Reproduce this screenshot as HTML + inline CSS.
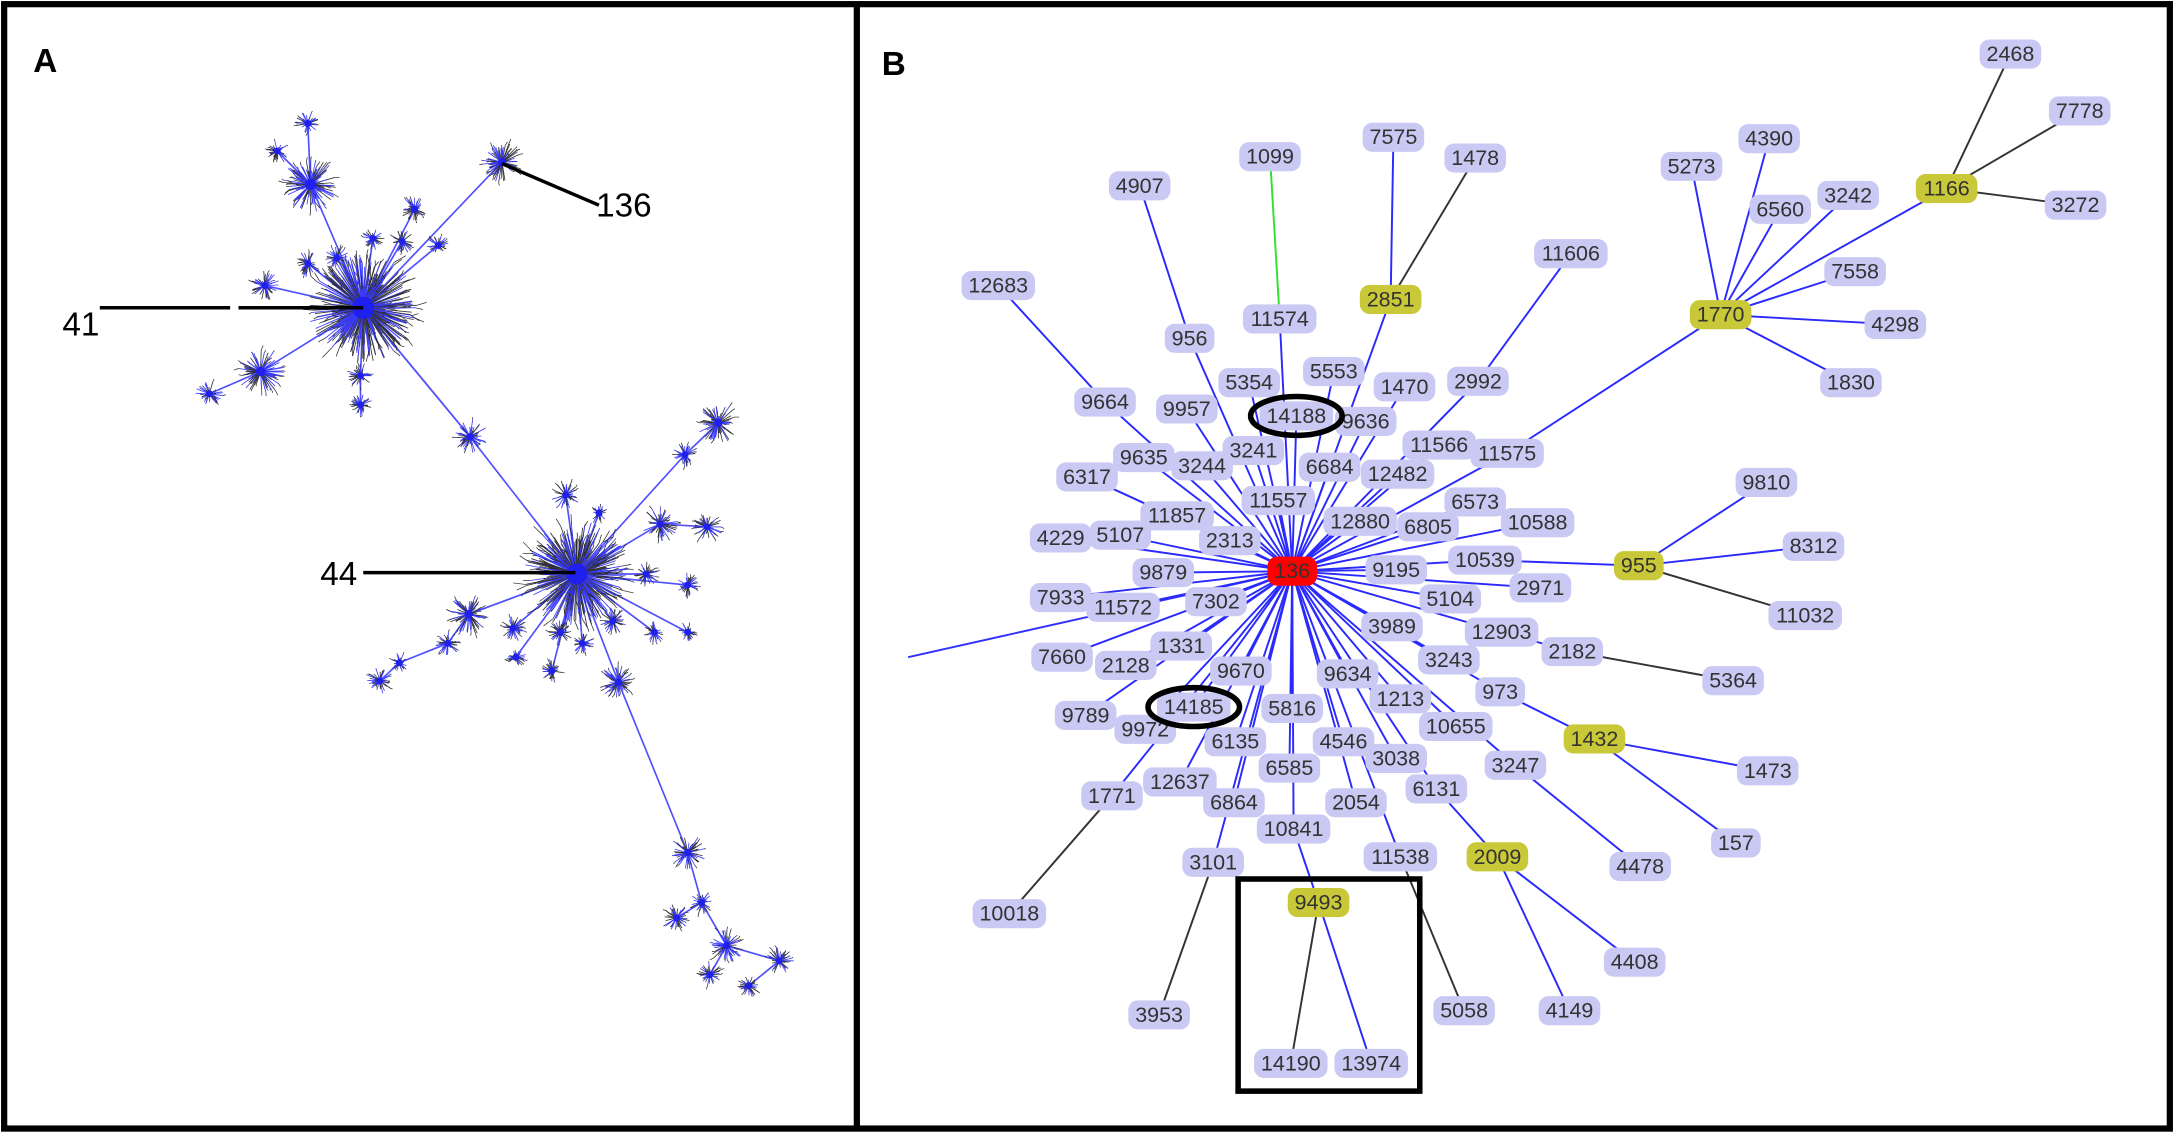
<!DOCTYPE html>
<html><head><meta charset="utf-8"><style>
html,body{margin:0;padding:0;background:#fff;}
svg{display:block;}
text{font-family:"Liberation Sans",sans-serif;}
.n{font-size:15.5px;fill:#333;text-anchor:middle;dominant-baseline:central;}
</style></head><body>
<svg id="s" width="2174" height="1133" viewBox="0 0 1568 817.2" preserveAspectRatio="none">
<rect x="0" y="0" width="1568" height="817.2" fill="#fff"/>
<g id="ga"></g>
<g id="ge"></g>
<g id="gr"></g>
<g id="gt">
<text class="n" x="822" y="134">4907</text><text class="n" x="916" y="113">1099</text><text class="n" x="1005" y="99">7575</text><text class="n" x="1064" y="114">1478</text>
<text class="n" x="1450" y="39">2468</text><text class="n" x="1500" y="80">7778</text><text class="n" x="1404" y="136" data-y="1">1166</text><text class="n" x="1497" y="148">3272</text>
<text class="n" x="1276" y="100">4390</text><text class="n" x="1220" y="120">5273</text><text class="n" x="1284" y="151">6560</text><text class="n" x="1333" y="141">3242</text>
<text class="n" x="1338" y="196">7558</text><text class="n" x="1241" y="227">1770</text><text class="n" x="1367" y="234">4298</text><text class="n" x="1335" y="276">1830</text>
<text class="n" x="1133" y="183">11606</text><text class="n" x="720" y="206">12683</text><text class="n" x="923" y="230">11574</text><text class="n" x="1003" y="216">2851</text>
<text class="n" x="858" y="244">956</text><text class="n" x="962" y="268">5553</text><text class="n" x="901" y="276">5354</text><text class="n" x="1013" y="279">1470</text>
<text class="n" x="1066" y="275">2992</text><text class="n" x="797" y="290">9664</text><text class="n" x="856" y="295">9957</text><text class="n" x="935" y="300">14188</text>
<text class="n" x="985" y="304">9636</text><text class="n" x="1038" y="321">11566</text><text class="n" x="1087" y="327">11575</text><text class="n" x="904" y="325">3241</text>
<text class="n" x="825" y="330">9635</text><text class="n" x="867" y="336">3244</text><text class="n" x="959" y="337">6684</text><text class="n" x="1008" y="342">12482</text>
<text class="n" x="784" y="344">6317</text><text class="n" x="922" y="361">11557</text><text class="n" x="1064" y="362">6573</text><text class="n" x="849" y="372">11857</text>
<text class="n" x="981" y="376">12880</text><text class="n" x="1030" y="380">6805</text><text class="n" x="1109" y="377">10588</text><text class="n" x="765" y="388">4229</text>
<text class="n" x="808" y="386">5107</text><text class="n" x="887" y="390">2313</text><text class="n" x="1274" y="348">9810</text><text class="n" x="1308" y="394">8312</text>
<text class="n" x="1182" y="408">955</text><text class="n" x="1302" y="444">11032</text><text class="n" x="839" y="413">9879</text><text class="n" x="1007" y="411">9195</text>
<text class="n" x="1071" y="404">10539</text><text class="n" x="1111" y="424">2971</text><text class="n" x="765" y="431">7933</text><text class="n" x="810" y="438">11572</text>
<text class="n" x="877" y="434">7302</text><text class="n" x="1046" y="432">5104</text><text class="n" x="1004" y="452">3989</text><text class="n" x="1083" y="456">12903</text>
<text class="n" x="1134" y="470">2182</text><text class="n" x="1250" y="491">5364</text><text class="n" x="766" y="474">7660</text><text class="n" x="852" y="466">1331</text>
<text class="n" x="812" y="480">2128</text><text class="n" x="1045" y="476">3243</text><text class="n" x="895" y="484">9670</text><text class="n" x="972" y="486">9634</text>
<text class="n" x="1082" y="499">973</text><text class="n" x="783" y="516">9789</text><text class="n" x="861" y="510">14185</text><text class="n" x="826" y="526">9972</text>
<text class="n" x="932" y="511">5816</text><text class="n" x="1010" y="504">1213</text><text class="n" x="891" y="535">6135</text><text class="n" x="969" y="535">4546</text>
<text class="n" x="1050" y="524">10655</text><text class="n" x="1150" y="533">1432</text><text class="n" x="1275" y="556">1473</text><text class="n" x="1007" y="547">3038</text>
<text class="n" x="930" y="554">6585</text><text class="n" x="1093" y="552">3247</text><text class="n" x="851" y="564">12637</text><text class="n" x="802" y="574">1771</text>
<text class="n" x="890" y="579">6864</text><text class="n" x="978" y="579">2054</text><text class="n" x="1036" y="569">6131</text><text class="n" x="1252" y="608">157</text>
<text class="n" x="933" y="598">10841</text><text class="n" x="1010" y="618">11538</text><text class="n" x="1080" y="618">2009</text><text class="n" x="1183" y="625">4478</text>
<text class="n" x="875" y="622">3101</text><text class="n" x="728" y="659">10018</text><text class="n" x="951" y="651">9493</text><text class="n" x="1056" y="729">5058</text>
<text class="n" x="1179" y="694">4408</text><text class="n" x="1132" y="729">4149</text><text class="n" x="836" y="732">3953</text><text class="n" x="931" y="767">14190</text>
<text class="n" x="989" y="767">13974</text><text class="n" x="932" y="412">136</text>
</g>
<ellipse cx="935" cy="300" rx="33" ry="14" fill="none" stroke="#000" stroke-width="4"/>
<ellipse cx="861" cy="510" rx="33" ry="14" fill="none" stroke="#000" stroke-width="4"/>
<rect x="893" y="634" width="131" height="153" fill="none" stroke="#000" stroke-width="4"/>
<!-- panel A labels -->
<line x1="72" y1="222" x2="166" y2="222" stroke="#000" stroke-width="2.5"/>
<line x1="172" y1="222" x2="262" y2="222" stroke="#000" stroke-width="2.5"/>
<text x="45" y="242" font-size="24" fill="#000">41</text>
<line x1="262" y1="413" x2="415" y2="413" stroke="#000" stroke-width="2.5"/>
<text x="231" y="422" font-size="24" fill="#000">44</text>
<line x1="362" y1="118" x2="432" y2="148" stroke="#000" stroke-width="2.5"/>
<text x="430" y="156" font-size="24" fill="#000">136</text>
<text x="24" y="52" font-size="24" font-weight="bold" fill="#000">A</text>
<text x="636" y="54" font-size="24" font-weight="bold" fill="#000">B</text>
<rect x="3" y="3" width="1562" height="811" fill="none" stroke="#000" stroke-width="4.5"/>
<line x1="618" y1="3" x2="618" y2="814" stroke="#000" stroke-width="4.5"/>
</svg>
<script>
var NS="http://www.w3.org/2000/svg";
function el(p,t,a){var e=document.createElementNS(NS,t);for(var k in a)e.setAttribute(k,a[k]);p.appendChild(e);return e;}
var gt=document.getElementById('gt'),gr=document.getElementById('gr'),ge=document.getElementById('ge'),ga=document.getElementById('ga');
var pos={},ts=gt.querySelectorAll('text');
var yellow=["1166","1770","2851","955","1432","2009","9493"];
for(var i=0;i<ts.length;i++){var t=ts[i],n=t.textContent,x=+t.getAttribute('x'),y=+t.getAttribute('y');pos[n]=[x,y];
var w=n.length*8.6+10;var f=n=="136"?"#ff0000":(yellow.indexOf(n)>=0?"#c8c838":"#c9c9f3");
el(gr,'rect',{x:x-w/2,y:y-10.5,width:w,height:21,rx:7,fill:f});}
var par={"4907":"956","1099":"11574","7575":"2851","1478":"2851","11606":"2992","12683":"9664","5273":"1770","4390":"1770","6560":"1770","3242":"1770","7558":"1770","4298":"1770","1830":"1770","1166":"1770","1770":"11575","2468":"1166","7778":"1166","3272":"1166","9810":"955","8312":"955","11032":"955","955":"10539","5364":"2182","2182":"12903","1473":"1432","157":"1432","1432":"973","4408":"2009","4149":"2009","2009":"6131","4478":"3247","10018":"1771","3953":"3101","14190":"9493","13974":"9493","9493":"10841","5058":"11538"};
var blk=["1478","2468","7778","3272","11032","5364","10018","3953","14190","5058"];
var c=pos["136"];
el(ge,'line',{x1:c[0],y1:c[1],x2:655,y2:474,stroke:"#3030ff","stroke-width":1.4});
for(var n in pos){if(n=="136")continue;var p=par[n]||"136";var a=pos[n],b=pos[p];
var col=n=="1099"?"#30e030":(blk.indexOf(n)>=0?"#333":"#2a2aff");
el(ge,'line',{x1:a[0],y1:a[1],x2:b[0],y2:b[1],stroke:col,"stroke-width":1.4});}
// panel A
var seed=7;function r(){seed=(seed*16807)%2147483647;return seed/2147483647;}
var C=[[262,222,40],[416,414,38],[224,133,20],[222,89,9],[200,109,8],[362,117,15],[299,151,10],[290,174,9],[269,172,8],[243,186,9],[222,190,10],[191,206,11],[188,268,17],[151,284,10],[260,271,9],[260,292,8],[316,177,8],[339,315,13],[408,357,11],[432,370,7],[476,378,13],[510,380,11],[494,328,9],[518,305,15],[466,414,9],[496,422,9],[338,443,15],[323,464,9],[288,478,7],[274,491,10],[370,453,10],[372,474,8],[404,456,9],[420,464,8],[442,448,10],[472,456,8],[496,456,7],[446,492,13],[398,484,8],[496,615,13],[506,651,9],[488,662,10],[524,682,13],[562,693,10],[512,703,9],[540,711,8]];
var P=[-1,17,0,2,2,0,0,0,0,0,0,0,0,12,0,14,0,0,1,1,1,20,1,22,1,1,1,26,27,28,1,1,1,1,1,1,1,1,1,37,39,40,40,42,42,43];
for(var i=1;i<C.length;i++){var a=C[i],b=C[P[i]];el(ga,'line',{x1:a[0],y1:a[1],x2:b[0],y2:b[1],stroke:"#5050ff","stroke-width":1.2});}
el(ga,'line',{x1:262,y1:222,x2:339,y2:315,stroke:"#5050ff","stroke-width":1.2});
for(var i=0;i<C.length;i++){var a=C[i],R=a[2],N=Math.round(R*R*0.25+20);
for(var k=0;k<N;k++){var ang=r()*6.283,l=R*(0.3+0.7*r());var x2=a[0]+Math.cos(ang)*l,y2=a[1]+Math.sin(ang)*l;
el(ga,'line',{x1:a[0],y1:a[1],x2:x2,y2:y2,stroke:r()<0.6?"#3a3aff":"#333","stroke-width":0.6});
if(r()<0.5){var a2=ang+(r()-0.5),l2=R*0.25*r();el(ga,'line',{x1:x2,y1:y2,x2:x2+Math.cos(a2)*l2,y2:y2+Math.sin(a2)*l2,stroke:"#222","stroke-width":0.5});}}
el(ga,'circle',{cx:a[0],cy:a[1],r:Math.max(2.5,R*0.2),fill:"#2020ee"});}
</script>
</body></html>
